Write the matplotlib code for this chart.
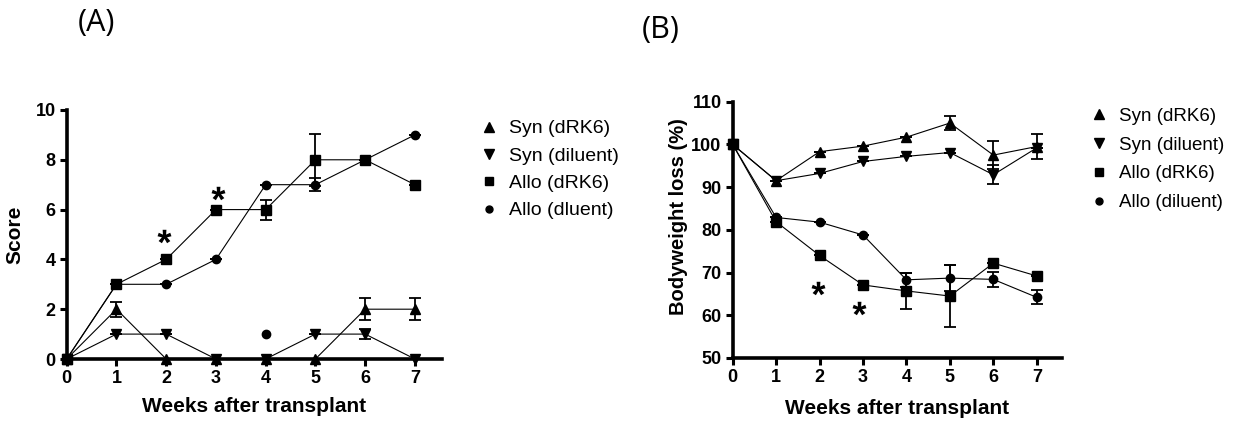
import numpy as np
import matplotlib
matplotlib.use("Agg")
import matplotlib.pyplot as plt
from matplotlib.textpath import TextPath
from matplotlib.font_manager import FontProperties
from matplotlib.path import Path

# ---------------- data ----------------
weeks = [0, 1, 2, 3, 4, 5, 6, 7]
labels_a = ["Syn (dRK6)", "Syn (diluent)", "Allo (dRK6)", "Allo (dluent)"]
labels_b = ["Syn (dRK6)", "Syn (diluent)", "Allo (dRK6)", "Allo (diluent)"]

# Panel A: score
a_syn_drk6 = [0, 2, 0, 0, 0, 0, 2, 2]
a_syn_drk6_err = [0, 0.3, 0, 0, 0, 0, 0.45, 0.45]
a_syn_dil = [0, 1, 1, 0, 0, 1, 1, 0]
a_syn_dil_err = [0, 0, 0, 0, 0, 0, 0.2, 0]
a_allo_drk6 = [0, 3, 4, 6, 6, 8, 8, 7]
a_allo_drk6_err = [0, 0, 0, 0, 0.4, 1.05, 0, 0]
a_allo_dil = [0, 3, 3, 4, 7, 7, 8, 9]
a_allo_dil_err = [0, 0, 0, 0, 0, 0.25, 0, 0]
a_extra_x = [4]
a_extra_y = [1]
a_star_x = [1.95, 3.05]
a_star_y = [4.95, 6.65]

# Panel B: bodyweight
b_syn_drk6 = [100, 91.5, 98.3, 99.6, 101.7, 105, 97.5, 99.5]
b_syn_drk6_err = [0, 0, 0, 0, 0, 1.7, 3.2, 3.0]
b_syn_dil = [100, 91.5, 93.2, 96, 97.2, 98.1, 92.9, 99.2]
b_syn_dil_err = [0, 0, 0, 0, 0, 0, 2.2, 0]
b_allo_drk6 = [100, 81.9, 74, 67.1, 65.7, 64.5, 72.2, 69.2]
b_allo_drk6_err = [0, 0, 0, 0, 4.3, 7.3, 0, 0]
b_allo_dil = [100, 82.9, 81.8, 78.8, 68.3, 68.7, 68.4, 64.2]
b_allo_dil_err = [0, 0, 0, 0, 1.7, 3.1, 1.8, 1.6]
b_star_x = [1.97, 2.91]
b_star_y = [66.3, 61.6]

# ---------------- style ----------------
plt.rcParams['font.family'] = ['Liberation Sans', 'DejaVu Sans']

fig = plt.figure(figsize=(12.33, 4.23), dpi=100)

# asterisk marker (5-arm Arial-like), centred
tp = TextPath((0, 0), "*", prop=FontProperties(family="Liberation Sans", weight="bold"), size=10)
v = tp.vertices.copy()
codes = tp.codes
real = codes != Path.CLOSEPOLY
cx = (v[real, 0].min() + v[real, 0].max()) / 2
cy = (v[real, 1].min() + v[real, 1].max()) / 2
v[:, 0] -= cx
v[:, 1] -= cy
v[~real] = 0.0
star = Path(v, codes)

markers = ['^', 'v', 's', 'o']
msizes = [7.5, 7.5, 7, 6]


def style_axes(ax, xlim, ylim, yticks, xlabel, ylabel, xlabelpad, ylabelsize):
    ax.set_xlim(*xlim)
    ax.set_ylim(*ylim)
    ax.set_xticks(weeks)
    ax.set_yticks(yticks)
    for s in ['top', 'right']:
        ax.spines[s].set_visible(False)
    for s in ['left', 'bottom']:
        ax.spines[s].set_linewidth(2.6)
    ax.tick_params(direction='out', length=5, width=2.2, pad=3, labelsize=13)
    for lab in ax.get_xticklabels() + ax.get_yticklabels():
        lab.set_fontweight('bold')
    ax.set_xlabel(xlabel, fontsize=15, fontweight='bold', labelpad=xlabelpad)
    ax.set_ylabel(ylabel, fontsize=ylabelsize, fontweight='bold')


def plot_series(ax, ys, errs, labels):
    handles = []
    for y, e, m, ms, lab in zip(ys, errs, markers, msizes, labels):
        ax.errorbar(weeks, y, yerr=e, fmt='none', ecolor='black', elinewidth=1.3,
                    capsize=4.5, capthick=1.3, clip_on=False, zorder=3)
        ax.plot(weeks, y, color='black', lw=0.8, zorder=2, clip_on=False)
        ax.plot(weeks, y, ls='none', marker=m, ms=ms, color='black', clip_on=False, zorder=4)
        h, = ax.plot([], [], ls='none', marker=m, ms=ms - 1, color='black', label=lab)
        handles.append(h)
    return handles


# Panel A
axA = fig.add_axes([0.0541, 0.1513, 0.3042, 0.5887])
hA = plot_series(axA, [a_syn_drk6, a_syn_dil, a_allo_drk6, a_allo_dil],
                 [a_syn_drk6_err, a_syn_dil_err, a_allo_drk6_err, a_allo_dil_err], labels_a)
axA.plot(a_extra_x, a_extra_y, ls='none', marker='o', ms=6, color='black', zorder=4)
axA.plot(a_star_x, a_star_y, ls='none', marker=star, ms=10, color='black', mec='none')
style_axes(axA, (0, 7.54), (0, 10), [0, 2, 4, 6, 8, 10], "Weeks after transplant", "Score", 7, 15)
axA.yaxis.set_label_coords(-0.112, 0.5)
axA.legend(handles=hA, loc='upper left', bbox_to_anchor=(0.3885, 0.717), bbox_transform=fig.transFigure,
           frameon=False, fontsize=14, handletextpad=0.55, labelspacing=0.5, handlelength=1.0,
           borderaxespad=0, borderpad=0)

# Panel B
axB = fig.add_axes([0.5942, 0.1537, 0.2671, 0.6059])
hB = plot_series(axB, [b_syn_drk6, b_syn_dil, b_allo_drk6, b_allo_dil],
                 [b_syn_drk6_err, b_syn_dil_err, b_allo_drk6_err, b_allo_dil_err], labels_b)
axB.plot(b_star_x, b_star_y, ls='none', marker=star, ms=10, color='black', mec='none')
style_axes(axB, (0, 7.58), (50, 110), [50, 60, 70, 80, 90, 100, 110], "Weeks after transplant",
           "Bodyweight loss (%)", 9, 14.5)
axB.yaxis.set_label_coords(-0.135, 0.55)
axB.legend(handles=hB, loc='upper left', bbox_to_anchor=(0.884, 0.745), bbox_transform=fig.transFigure,
           frameon=False, fontsize=13.5, handletextpad=0.55, labelspacing=0.62, handlelength=1.0,
           borderaxespad=0, borderpad=0)

fig.text(0.0785, 0.946, "(A)", fontsize=22, family=['Open Sans', 'DejaVu Sans'], ha='center', va='center')
fig.text(0.5355, 0.929, "(B)", fontsize=22, family=['Open Sans', 'DejaVu Sans'], ha='center', va='center')

fig.savefig("out.png", dpi=100)
